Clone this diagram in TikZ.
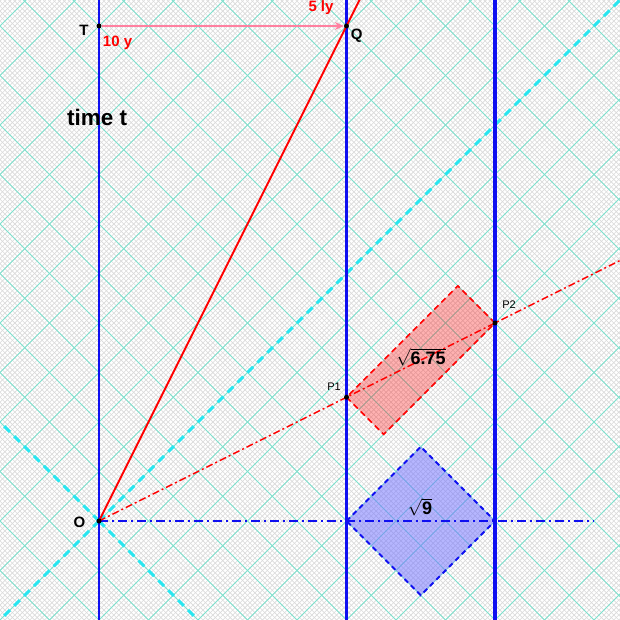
\documentclass[tikz,border=0pt]{standalone}
\usepackage{fontspec}
\setmainfont{Liberation Sans}
\usetikzlibrary{arrows.meta,calc}
\definecolor{finec}{RGB}{218,218,218}
\definecolor{gridc}{RGB}{125,225,205}
\definecolor{conec}{RGB}{40,230,240}
\definecolor{pinkc}{RGB}{255,128,160}
\definecolor{wlblue}{RGB}{15,15,240}
\begin{document}
\begin{tikzpicture}[x=49.5bp,y=49.5bp,
  finegrid/.style={draw=finec, line width=0.6bp},
  majorgrid/.style={draw=gridc, line width=1bp},
  cone/.style={draw=conec, line width=3bp, dash pattern=on 8bp off 6bp},
  wlthin/.style={draw=wlblue, line width=2bp},
  wlthick/.style={draw=wlblue, line width=3.5bp},
  redline/.style={draw=red, line width=2bp},
  reddashdot/.style={draw=red, line width=1.5bp, dash pattern=on 7bp off 3bp on 2bp off 3bp},
  bluedashdot/.style={draw=wlblue, line width=2bp, dash pattern=on 9bp off 4bp on 2bp off 4bp},
  diamondbox/.style={draw=wlblue, line width=2bp, dash pattern=on 5bp off 4bp, fill={rgb,255:red,110;green,110;blue,255}, fill opacity=0.5},
  redbox/.style={draw=red, line width=1.5bp, dash pattern=on 6bp off 4bp, fill=red, fill opacity=0.3},
  pinkarrow/.style={draw=pinkc, line width=2bp, -{Stealth[length=9bp,width=8bp]}},
  dot/.style={circle, fill=black, inner sep=0pt, minimum size=5bp},
  lbl/.style={font=\fontsize{15bp}{18bp}\selectfont\bfseries, inner sep=0pt},
  redlbl/.style={lbl, text=red},
  small/.style={font=\fontsize{11bp}{13bp}\selectfont, inner sep=0pt},
  rootlbl/.style={font=\fontsize{18bp}{21bp}\selectfont\bfseries, inner sep=0pt}
]
\path[use as bounding box] (-2,-2) rectangle (10.5253,10.5253);
\clip (-2,-2) rectangle (10.5253,10.5253);
\fill[white] (-2,-2) rectangle (10.5253,10.5253);
% fine grid
\draw[finegrid] \foreach \k in {-130,...,130} { ({\k/10-15},-15) -- ({\k/10+15},15) };
\draw[finegrid] \foreach \k in {-45,...,215} { ({\k/10+15},-15) -- ({\k/10-15},15) };
% major grid
\draw[majorgrid] \foreach \k in {-13,...,13} { ({\k-15},-15) -- ({\k+15},15) };
\draw[majorgrid] \foreach \k in {-5,...,22} { ({\k+15},-15) -- ({\k-15},15) };
% points
\coordinate (O) at (0,0);
\coordinate (T) at (0,10);
\coordinate (Q) at (5,10);
\coordinate (P1) at (5,2.5);
\coordinate (P2) at (8,4);
\coordinate (D1) at (5,0);
\coordinate (Dtop) at (6.5,1.5);
\coordinate (D2) at (8,0);
\coordinate (Dbot) at (6.5,-1.5);
\coordinate (R1) at (5.75,1.75);
\coordinate (R2) at (7.25,4.75);
\coordinate (ConeA) at (-2,-2);
\coordinate (ConeB) at (10.6,10.6);
\coordinate (ConeC) at (-2,2);
\coordinate (ConeD) at (2,-2);
\coordinate (Bend) at (10,0);
\coordinate (Rend) at (10.8,5.4);
\coordinate (Qend) at (5.4,10.8);
\coordinate (V0b) at (0,-2.1);
\coordinate (V0t) at (0,10.6);
\coordinate (V5b) at (5,-2.1);
\coordinate (V5t) at (5,10.6);
\coordinate (V8b) at (8,-2.1);
\coordinate (V8t) at (8,10.6);
% shapes
\path[diamondbox] (D1) -- (Dtop) -- (D2) -- (Dbot) -- cycle;
\path[redbox] (P1) -- (R1) -- (P2) -- (R2) -- cycle;
% light cone
\draw[cone] (O) -- (ConeB);
\draw[cone] (O) -- (ConeA);
\draw[cone] (O) -- (ConeC);
\draw[cone] (O) -- (ConeD);
% world lines
\draw[wlthin] (V0b) -- (V0t);
\draw[wlthick] (V5b) -- (V5t);
\draw[wlthick] (V8b) -- (V8t);
\draw[bluedashdot] (O) -- (Bend);
\draw[reddashdot] (O) -- (Rend);
\draw[redline] (O) -- (Qend);
% dots
\node[dot] (Od) at (O) {};
\node[dot] (Td) at (T) {};
\node[dot] (Qd) at (Q) {};
\node[dot] (P1d) at (P1) {};
\node[dot] (P2d) at (P2) {};
\draw[pinkarrow] (Td) -- (Qd);
% labels
\node[lbl] (lT) at (-0.303,9.92) {T};
\node[redlbl] (l10) at (0.374,9.657) {10 y};
\node[redlbl] (l5) at (4.485,10.374) {5 ly};
\node[lbl] (lQ) at (5.206,9.798) {Q};
\node[lbl] (lO) at (-0.394,-0.02) {O};
\node[font=\fontsize{22.5bp}{26bp}\selectfont\bfseries, inner sep=0pt] (ltime) at (-0.04,8.162) {time t};
\node[small] (lP1) at (4.747,2.707) {P1};
\node[small] (lP2) at (8.283,4.364) {P2};
\node[rootlbl] (lroot1) at (6.505,3.313) {$\sqrt{\mbox{6.75}}$};
\node[rootlbl] (lroot2) at (6.485,0.283) {$\sqrt{\mbox{9}}$};
\end{tikzpicture}
\end{document}
